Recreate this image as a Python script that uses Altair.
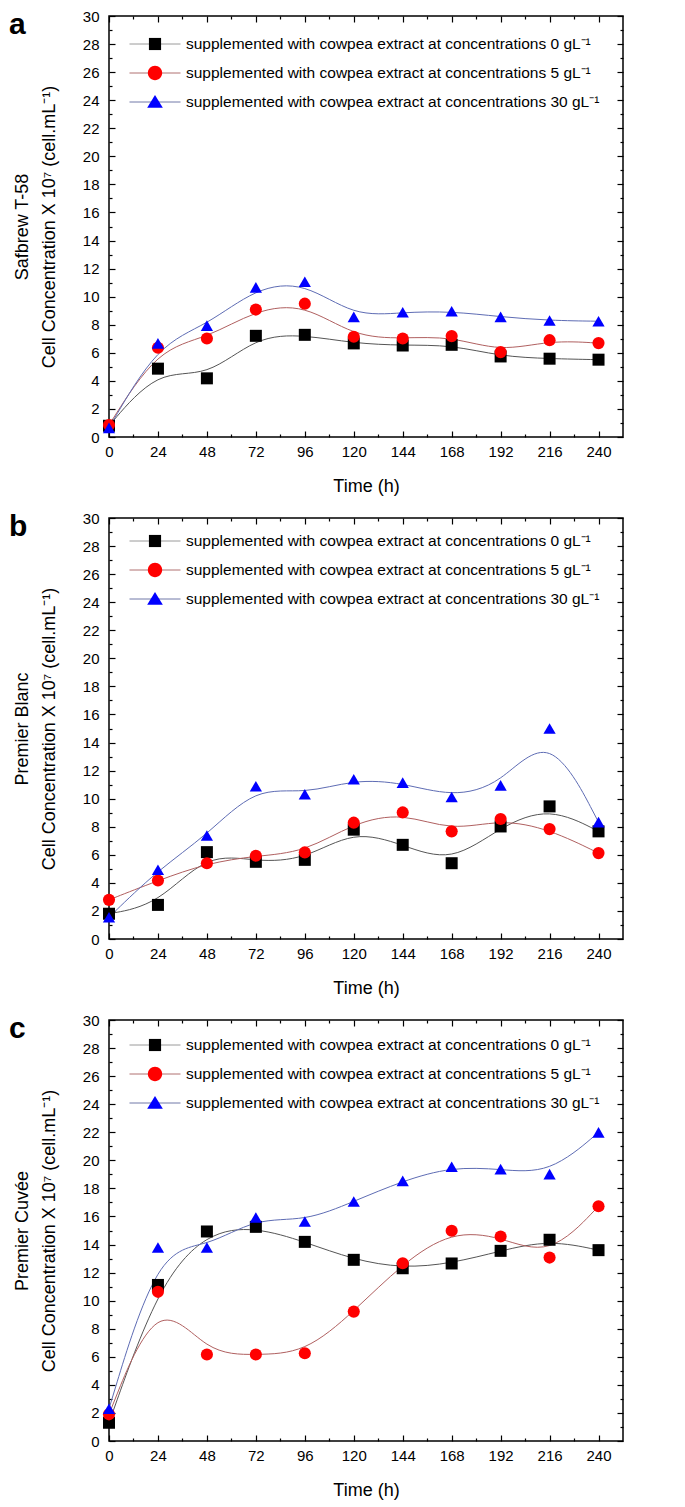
import altair as alt
import pandas as pd

FONT = "Liberation Sans"

TIMES = [0, 24, 48, 72, 96, 120, 144, 168, 192, 216, 240]
SERIES = [
    "supplemented with cowpea extract at concentrations 0 gL⁻¹",
    "supplemented with cowpea extract at concentrations 5 gL⁻¹",
    "supplemented with cowpea extract at concentrations 30 gL⁻¹",
]

# Panel a - Safbrew T-58
A_0 = [0.80, 4.87, 4.18, 7.21, 7.28, 6.67, 6.52, 6.57, 5.74, 5.58, 5.51]
A_5 = [0.85, 6.36, 7.02, 9.08, 9.50, 7.14, 7.02, 7.19, 6.05, 6.90, 6.69]
A_30 = [0.65, 6.67, 7.94, 10.66, 11.06, 8.56, 8.89, 8.96, 8.56, 8.30, 8.25]

# Panel b - Premier Blanc
B_0 = [1.80, 2.43, 6.19, 5.50, 5.64, 7.79, 6.71, 5.40, 8.02, 9.45, 7.67]
B_5 = [2.79, 4.17, 5.40, 5.93, 6.17, 8.29, 9.02, 7.67, 8.55, 7.83, 6.12]
B_30 = [1.55, 4.93, 7.38, 10.88, 10.31, 11.38, 11.14, 10.12, 10.95, 15.00, 8.33]

# Panel c - Premier Cuvée
C_0 = [1.30, 11.12, 14.93, 15.26, 14.19, 12.91, 12.31, 12.65, 13.55, 14.34, 13.60]
C_5 = [1.90, 10.63, 6.16, 6.16, 6.25, 9.22, 12.67, 14.98, 14.57, 13.07, 16.73]
C_30 = [2.30, 13.79, 13.79, 15.93, 15.64, 17.07, 18.54, 19.54, 19.37, 19.02, 21.99]

PANELS = [
    ("a", "Safbrew T-58", [A_0, A_5, A_30]),
    ("b", "Premier Blanc", [B_0, B_5, B_30]),
    ("c", "Premier Cuvée", [C_0, C_5, C_30]),
]
LEGEND_Y = {"a": 14, "b": 9, "c": 11}
LETTER_Y = 18

MARKER_COLORS = ["#000000", "#ff0000", "#0000ff"]
LINE_COLORS = ["#555555", "#b06060", "#5e6cb4"]
LEGEND_LINE_COLORS = ["#9a9a9a", "#b07070", "#7078a8"]
MARKER_SHAPES = ["square", "circle", "triangle-up"]
MARKER_SIZES = [144, 150, 240]
LEGEND_LINE_PATH = "M-1.89,0H1.89"
LEGEND_MARKER_PATHS = [
    "M-0.45,-0.45H0.45V0.45H-0.45Z",
    "M-0.53,0A0.53 0.53 0 1 0 0.53 0A0.53 0.53 0 1 0 -0.53 0Z",
    "M0,-0.52L0.58,0.43H-0.58Z",
]

X_MAJOR = list(range(0, 241, 24))
X_MINOR = list(range(12, 241, 24))
Y_MAJOR = list(range(0, 31, 2))
Y_MINOR = list(range(1, 30, 2))


def axis(orient, values, size, title=None):
    kw = dict(
        orient=orient, values=values, tickSize=size, offset=-size,
        domain=False, grid=False, ticks=True, tickColor="black", tickWidth=1.2,
    )
    if title is not None:
        kw.update(
            labels=True, labelFont=FONT, labelFontSize=15, labelColor="black",
            labelFlush=False, labelOverlap=False,
            title=title, titleFont=FONT, titleFontSize=18, titleFontWeight="normal",
            titleColor="black",
        )
        if orient == "bottom":
            kw.update(labelPadding=7, titlePadding=18)
        else:
            kw.update(labelPadding=10, titlePadding=24, titleLineHeight=27)
    else:
        kw.update(labels=False, title=None)
    return alt.Axis(**kw)


def legend(letter, **extra):
    return alt.Legend(
        title=None, orient="none", legendX=32, legendY=LEGEND_Y[letter],
        symbolSize=729, symbolStrokeWidth=1, labelFont=FONT, labelFontSize=15.5,
        labelColor="black", labelLimit=1000, labelOffset=17, rowPadding=6,
        padding=0, direction="vertical", **extra,
    )


def panel(letter, ytitle, vals):
    df = pd.DataFrame({
        "time": TIMES * 3,
        "value": [v for s in vals for v in s],
        "series": [s for s in SERIES for _ in TIMES],
    })
    xs = alt.Scale(domain=[0, 252], nice=False, zero=False)
    ys = alt.Scale(domain=[0, 30], nice=False, zero=False)
    base = alt.Chart(df)

    lines = base.mark_line(interpolate="basis", strokeWidth=1).encode(
        x=alt.X("time:Q", scale=xs, axis=axis("bottom", X_MAJOR, 6, "Time (h)")),
        y=alt.Y("value:Q", scale=ys,
                axis=axis("left", Y_MAJOR, 6,
                          [ytitle, "Cell Concentration X 10⁷ (cell.mL⁻¹)"])),
        color=alt.Color("series:N", scale=alt.Scale(domain=SERIES, range=LINE_COLORS), legend=None),
    )
    points = base.mark_point(filled=True, opacity=1).encode(
        x=alt.X("time:Q", scale=xs, axis=axis("top", X_MAJOR, 6)),
        y=alt.Y("value:Q", scale=ys, axis=axis("right", Y_MAJOR, 6)),
        color=alt.Color("series:N", scale=alt.Scale(domain=SERIES, range=MARKER_COLORS), legend=None),
        shape=alt.Shape("series:N", scale=alt.Scale(domain=SERIES, range=MARKER_SHAPES), legend=None),
        size=alt.Size("series:N", scale=alt.Scale(domain=SERIES, range=MARKER_SIZES), legend=None),
    )
    legend_lines = base.transform_filter("false").mark_point(
        filled=False, opacity=1, size=729, strokeWidth=1
    ).encode(
        x=alt.X("time:Q", scale=xs, axis=axis("bottom", X_MINOR, 3)),
        y=alt.Y("value:Q", scale=ys, axis=axis("left", Y_MINOR, 3)),
        color=alt.Color(
            "series:N", scale=alt.Scale(domain=SERIES, range=LEGEND_LINE_COLORS),
            legend=legend(letter, symbolType=LEGEND_LINE_PATH, labelOpacity=0, zindex=1),
        ),
    )
    leg_m = legend(letter, zindex=2)
    legend_markers = base.transform_filter("false").mark_point(
        filled=True, opacity=1, size=729, strokeWidth=1
    ).encode(
        x=alt.X("time:Q", scale=xs, axis=axis("top", X_MINOR, 3)),
        y=alt.Y("value:Q", scale=ys, axis=axis("right", Y_MINOR, 3)),
        color=alt.Color("series:N", scale=alt.Scale(domain=SERIES, range=MARKER_COLORS), legend=leg_m),
        shape=alt.Shape("series:N", scale=alt.Scale(domain=SERIES, range=LEGEND_MARKER_PATHS), legend=leg_m),
    )
    letter_layer = alt.Chart(pd.DataFrame({"letter": [letter]})).mark_text(
        font=FONT, fontSize=30, fontWeight="bold", align="left",
        baseline="alphabetic", color="black",
    ).encode(text="letter:N", x=alt.value(-100), y=alt.value(LETTER_Y))

    return alt.layer(lines, points, legend_lines, legend_markers, letter_layer).resolve_scale(
        color="independent", shape="independent"
    ).resolve_axis(x="independent", y="independent").properties(width=514, height=421)


chart = alt.vconcat(*[panel(*p) for p in PANELS], spacing=14).properties(
    padding=0
).configure(font=FONT).configure_view(stroke="black", strokeWidth=1.5)

chart.save("out.html", embed_options={"renderer": "svg", "actions": False})
